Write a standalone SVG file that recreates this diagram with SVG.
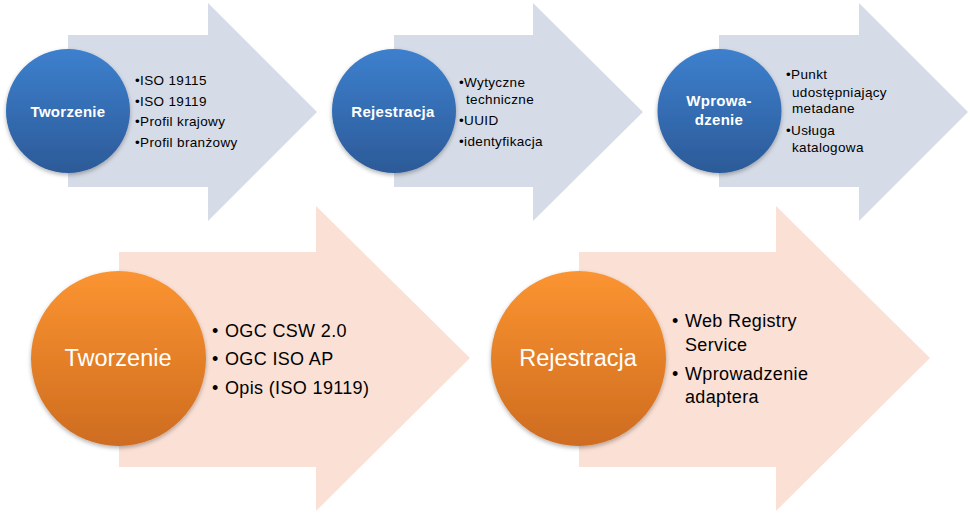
<svg xmlns="http://www.w3.org/2000/svg" width="970" height="514" viewBox="0 0 970 514">
<defs>
<linearGradient id="gBlue" x1="0" y1="0" x2="0" y2="1">
<stop offset="0" stop-color="#3D80CE"/>
<stop offset="1" stop-color="#2C5A98"/>
</linearGradient>
<linearGradient id="gOrange" x1="0" y1="0" x2="0" y2="1">
<stop offset="0" stop-color="#FB9431"/>
<stop offset="1" stop-color="#CE6C20"/>
</linearGradient>
<filter id="sh" x="-20%" y="-20%" width="140%" height="150%">
<feDropShadow dx="0" dy="2" stdDeviation="2" flood-color="#000" flood-opacity="0.3"/>
</filter>
</defs>
<style>
.ab{fill:#D6DCE7}
.ao{fill:#FBE0D5}
.cb{fill:url(#gBlue);filter:url(#sh)}
.co{fill:url(#gOrange);filter:url(#sh)}
text{font-family:"Liberation Sans",Arial,sans-serif}
.lt{fill:#fff;font-weight:bold;font-size:15px;text-anchor:middle;letter-spacing:0.3px}
.lb{fill:#fff;font-size:23.5px;text-anchor:middle}
.s{fill:#000;font-size:13.5px;letter-spacing:0.35px}
.m{fill:#000;font-size:18px;letter-spacing:0.35px}
</style>
<rect width="970" height="514" fill="#fff"/>
<g id="step1">
<polygon class="ab" points="68,35 208,35 208,3 317,112 208,221 208,187 68,187"/>
<circle class="cb" cx="68" cy="111" r="62"/>
<text class="lt" x="68" y="117">Tworzenie</text>
<text class="s" x="135" y="85">•ISO 19115</text>
<text class="s" x="135" y="106">•ISO 19119</text>
<text class="s" x="135" y="126">•Profil krajowy</text>
<text class="s" x="135" y="147">•Profil branżowy</text>
</g>
<g id="step2">
<polygon class="ab" points="394,35 533,35 533,3 643,112 533,221 533,187 394,187"/>
<circle class="cb" cx="394" cy="111" r="62"/>
<text class="lt" x="393" y="117">Rejestracja</text>
<text class="s" x="459" y="87">•Wytyczne</text>
<text class="s" x="466" y="104">techniczne</text>
<text class="s" x="459" y="125">•UUID</text>
<text class="s" x="459" y="146">•identyfikacja</text>
</g>
<g id="step3">
<polygon class="ab" points="719,35 859,35 859,3 968,112 859,221 859,187 719,187"/>
<circle class="cb" cx="719.5" cy="111" r="62"/>
<text class="lt" x="719" y="106">Wprowa-</text>
<text class="lt" x="719" y="125">dzenie</text>
<text class="s" x="786" y="79">•Punkt</text>
<text class="s" x="792" y="97">udostępniający</text>
<text class="s" x="792" y="113">metadane</text>
<text class="s" x="786" y="135">•Usługa</text>
<text class="s" x="792" y="152">katalogowa</text>
</g>
<g id="step4">
<polygon class="ao" points="119,252 316,252 316,206 470,358 316,511 316,467 119,467"/>
<circle class="co" cx="118.5" cy="358.5" r="87.5"/>
<text class="lb" x="118" y="366">Tworzenie</text>
<text class="m" x="212" y="337">•</text>
<text class="m" x="225" y="337">OGC CSW 2.0</text>
<text class="m" x="212" y="365">•</text>
<text class="m" x="225" y="365">OGC ISO AP</text>
<text class="m" x="212" y="394">•</text>
<text class="m" x="225" y="394">Opis (ISO 19119)</text>
</g>
<g id="step5">
<polygon class="ao" points="579,252 776,252 776,206 930,358 776,511 776,467 579,467"/>
<circle class="co" cx="578.5" cy="358.5" r="87.5"/>
<text class="lb" x="578" y="366">Rejestracja</text>
<text class="m" x="672" y="327">•</text>
<text class="m" x="685" y="327">Web Registry</text>
<text class="m" x="685" y="351">Service</text>
<text class="m" x="672" y="380">•</text>
<text class="m" x="685" y="380">Wprowadzenie</text>
<text class="m" x="685" y="403">adaptera</text>
</g>
<g id="connectors"/>
</svg>
